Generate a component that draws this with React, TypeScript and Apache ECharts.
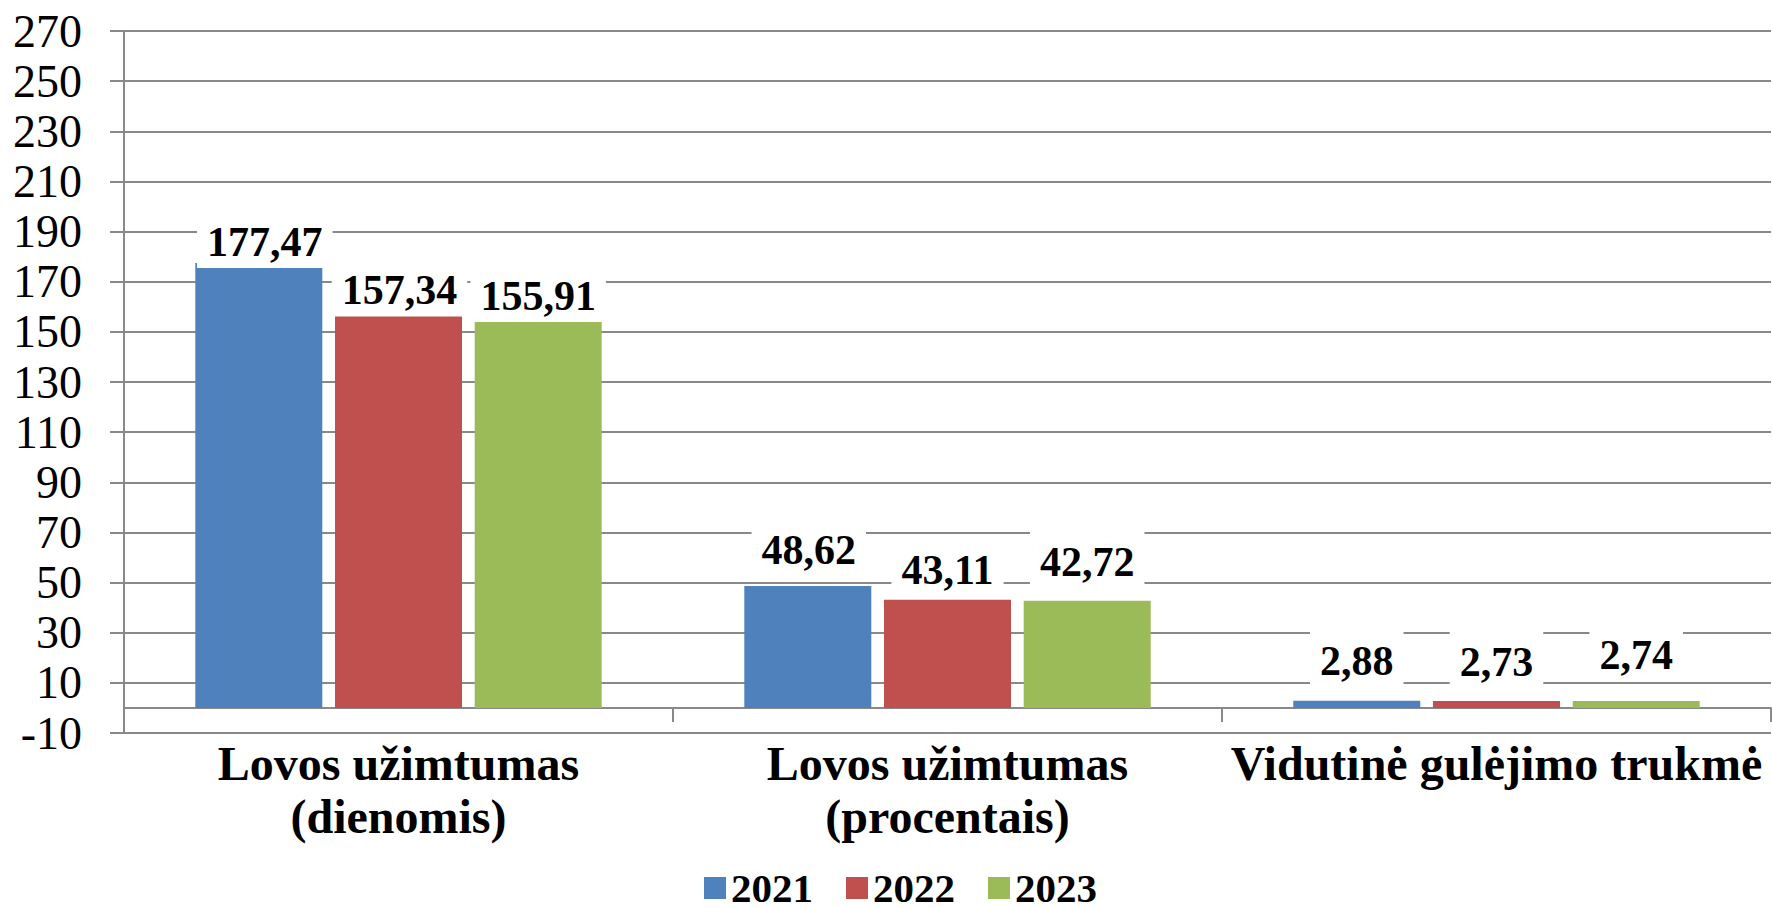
import React, { useEffect, useRef } from "react";
import * as echarts from "echarts";

const categories = [
  "Lovos užimtumas\n(dienomis)",
  "Lovos užimtumas\n(procentais)",
  "Vidutinė gulėjimo trukmė",
];
const years = ["2021", "2022", "2023"];
const values2021 = [177.47, 48.62, 2.88];
const values2022 = [157.34, 43.11, 2.73];
const values2023 = [155.91, 42.72, 2.74];
const yMin = -10;
const yMax = 270;
const yStep = 20;

const colors = ["#4F81BD", "#C0504D", "#9BBB59"];
// label placement tweaks (style only): [dx, dy] per series per category
const labelShift = [
  [[6, 5], [1, -10], [0, -14]],
  [[1, 3], [0, -4], [0, -13]],
  [[0, 5], [0, -13], [0, -20]],
];

const FONT = "'Liberation Serif', 'Times New Roman', serif";
const GRID_COLOR = "#898989";

export default function App() {
  const ref = useRef<HTMLDivElement>(null);
  useEffect(() => {
    if (!ref.current) return;
    const chart = echarts.init(ref.current, undefined, { renderer: "svg" });
    const all = [values2021, values2022, values2023];
    const series = years.map((name, si) => ({
      name,
      type: "bar",
      barWidth: 127,
      barGap: "10%",
      itemStyle: { color: colors[si] },
      data: all[si].map((v, ci) => ({
        value: v,
        label: { offset: labelShift[si][ci] },
      })),
      label: {
        show: true,
        position: "top",
        distance: 0,
        formatter: (p: any) => Number(p.value).toFixed(2).replace(".", ","),
        fontFamily: FONT,
        fontWeight: "bold",
        fontSize: 42,
        lineHeight: 44,
        color: "#000",
        backgroundColor: "#fff",
        padding: [8, 10, 4, 10],
      },
    }));
    chart.setOption({
      animation: false,
      backgroundColor: "#fff",
      grid: { left: 124, right: 1, top: 31, bottom: 175, containLabel: false },
      legend: {
        data: years,
        left: 699,
        top: 862,
        itemWidth: 22,
        itemHeight: 22,
        itemGap: 33,
        icon: "rect",
        textStyle: {
          fontFamily: FONT,
          fontWeight: "bold",
          fontSize: 41,
          lineHeight: 42,
          color: "#000",
        },
      },
      xAxis: {
        type: "category",
        data: categories,
        axisLine: { onZero: true, lineStyle: { color: GRID_COLOR, width: 2 } },
        axisTick: { show: true, length: 14, lineStyle: { color: GRID_COLOR, width: 2 } },
        axisLabel: {
          interval: 0,
          margin: 4,
          fontFamily: FONT,
          fontWeight: "bold",
          fontSize: 48,
          lineHeight: 53,
          color: "#000",
        },
      },
      yAxis: {
        type: "value",
        min: yMin,
        max: yMax,
        interval: yStep,
        axisLine: { show: true, lineStyle: { color: GRID_COLOR, width: 2 } },
        axisTick: { show: true, length: 14, lineStyle: { color: GRID_COLOR, width: 2 } },
        splitLine: { show: true, lineStyle: { color: GRID_COLOR, width: 2 } },
        axisLabel: {
          margin: 42,
          fontFamily: FONT,
          fontSize: 46,
          color: "#000",
        },
      },
      series,
    });
    return () => chart.dispose();
  }, []);
  return (
    <div
      ref={ref}
      style={{ position: "absolute", left: 0, top: 0, width: 1772, height: 908, background: "#fff" }}
    />
  );
}
